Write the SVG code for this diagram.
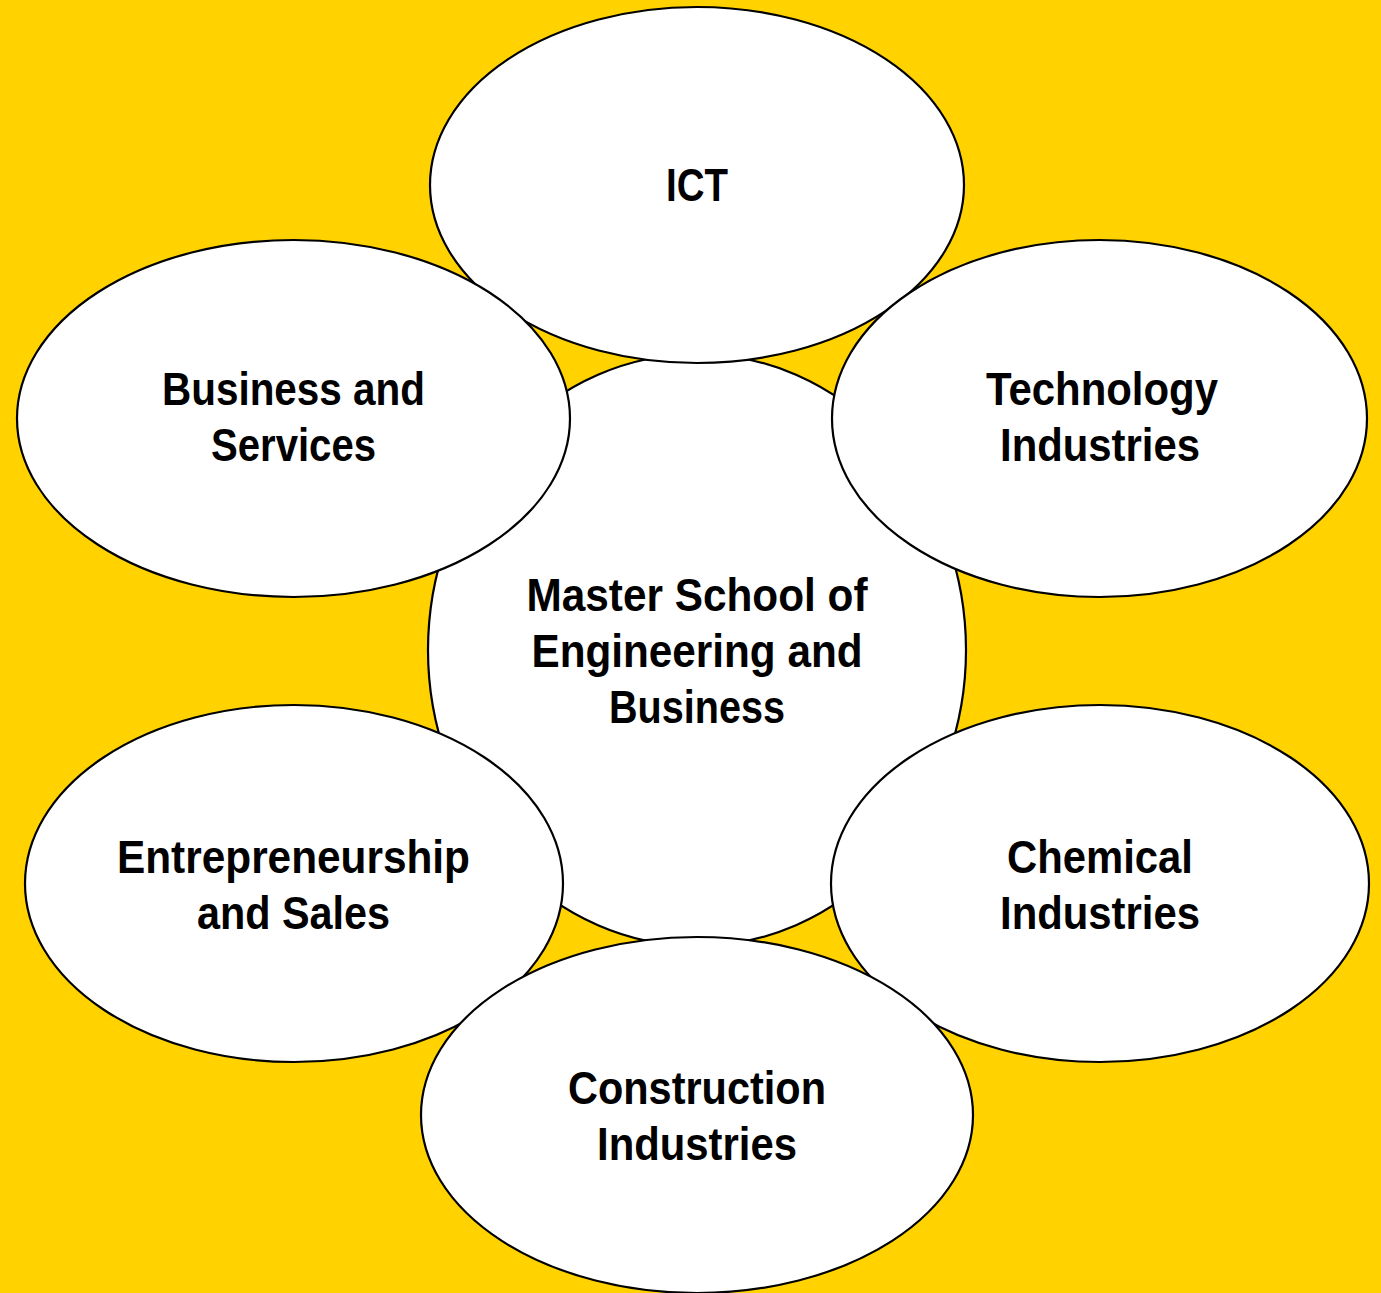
<svg xmlns="http://www.w3.org/2000/svg" width="1381" height="1293" viewBox="0 0 1381 1293">
<style>
.n{fill:#ffffff;stroke:#000000;stroke-width:2.2}
.t{font-family:"Liberation Sans",Arial,sans-serif;font-weight:bold;font-size:47px;fill:#000000;text-anchor:middle}
</style>
<rect x="0" y="0" width="1381" height="1293" fill="#FFD200"/>
<g id="connectors"></g>
<g id="center">
<ellipse class="n" cx="697" cy="650" rx="269" ry="296"/>
<text class="t" x="697" y="611" textLength="341" lengthAdjust="spacingAndGlyphs">Master School of</text>
<text class="t" x="697" y="667" textLength="331" lengthAdjust="spacingAndGlyphs">Engineering and</text>
<text class="t" x="697" y="723" textLength="176" lengthAdjust="spacingAndGlyphs">Business</text>
</g>
<g id="ict">
<ellipse class="n" cx="697" cy="185" rx="267" ry="178"/>
<text class="t" x="697" y="201" textLength="62" lengthAdjust="spacingAndGlyphs">ICT</text>
</g>
<g id="business">
<ellipse class="n" cx="293.5" cy="418.5" rx="276.5" ry="178.5"/>
<text class="t" x="293.5" y="405" textLength="263" lengthAdjust="spacingAndGlyphs">Business and</text>
<text class="t" x="293.5" y="461" textLength="165" lengthAdjust="spacingAndGlyphs">Services</text>
</g>
<g id="technology">
<ellipse class="n" cx="1099.5" cy="418.5" rx="267.5" ry="178.5"/>
<text class="t" x="1102" y="405" textLength="232" lengthAdjust="spacingAndGlyphs">Technology</text>
<text class="t" x="1100" y="461" textLength="200" lengthAdjust="spacingAndGlyphs">Industries</text>
</g>
<g id="entrepreneurship">
<ellipse class="n" cx="294" cy="883.5" rx="269" ry="178.5"/>
<text class="t" x="293.5" y="873" textLength="353" lengthAdjust="spacingAndGlyphs">Entrepreneurship</text>
<text class="t" x="293.5" y="929" textLength="193" lengthAdjust="spacingAndGlyphs">and Sales</text>
</g>
<g id="chemical">
<ellipse class="n" cx="1100" cy="883.5" rx="269" ry="178.5"/>
<text class="t" x="1100" y="873" textLength="186" lengthAdjust="spacingAndGlyphs">Chemical</text>
<text class="t" x="1100" y="929" textLength="200" lengthAdjust="spacingAndGlyphs">Industries</text>
</g>
<g id="construction">
<ellipse class="n" cx="697" cy="1115" rx="276" ry="178"/>
<text class="t" x="697" y="1104" textLength="258" lengthAdjust="spacingAndGlyphs">Construction</text>
<text class="t" x="697" y="1160" textLength="200" lengthAdjust="spacingAndGlyphs">Industries</text>
</g>
</svg>
